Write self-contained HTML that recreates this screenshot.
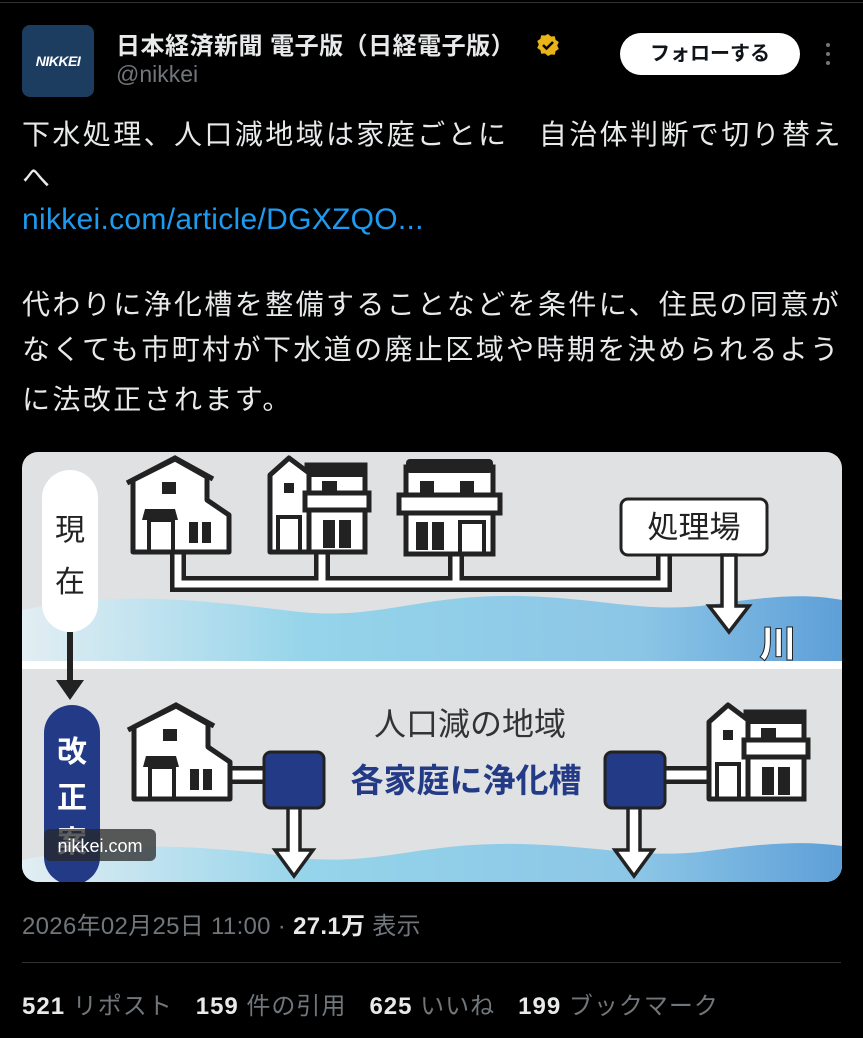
<!DOCTYPE html>
<html><head><meta charset="utf-8"><style>
*{margin:0;padding:0;box-sizing:border-box}
body{width:863px;height:1038px;background:#000;position:relative;overflow:hidden;font-family:"Liberation Sans","Noto Sans CJK JP",sans-serif;color:#e7e9ea}
.a{position:absolute;white-space:nowrap}
.t{font-size:28px;letter-spacing:2.4px;line-height:40px;color:#e7e9ea}
</style></head><body>
<div class="a" style="left:0;top:2px;width:863px;height:1px;background:#2f3336"></div>
<div class="a" style="left:22px;top:25px;width:72px;height:72px;border-radius:8px;background:#1d3d60;color:#fff;font-weight:bold;font-style:italic;font-size:14px;line-height:72px;text-align:center;letter-spacing:-0.5px">NIKKEI</div>
<div class="a" style="left:116px;top:26px;font-size:24px;font-weight:bold;color:#e7e9ea;letter-spacing:0.5px">日本経済新聞 電子版（日経電子版）</div>
<svg class="a" style="left:536px;top:33px" width="24" height="24" viewBox="0 0 24 24"><path d="M12 1l3 2.5 3.8-.3.8 3.7 3.2 2.1-1.6 3.5 1.6 3.5-3.2 2.1-.8 3.7-3.8-.3L12 23l-3-2.5-3.8.3-.8-3.7L1.2 15l1.6-3.5L1.2 8l3.2-2.1.8-3.7 3.8.3z" fill="#e8b418"/><path d="M7 12l3.5 3.5L17 9" stroke="#000" stroke-width="2.5" fill="none"/></svg>
<div class="a" style="left:116px;top:61px;font-size:23px;color:#71767b">@nikkei</div>
<div class="a" style="left:620px;top:33px;width:180px;height:42px;border-radius:21px;background:#fff;color:#0f1419;font-weight:bold;font-size:20px;line-height:42px;text-align:center">フォローする</div>
<div class="a" style="left:826px;top:43px;width:4px;height:4px;border-radius:2px;background:#71767b;box-shadow:0 9px 0 #71767b,0 18px 0 #71767b"></div>

<div class="a t" style="left:22px;top:115px">下水処理、人口減地域は家庭ごとに　自治体判断で切り替え</div>
<div class="a t" style="left:22px;top:158px">へ</div>
<div class="a t" style="left:22px;top:200px;color:#1d9bf0;letter-spacing:0.3px;font-size:30px">nikkei.com/article/DGXZQO...</div>
<div class="a t" style="left:22px;top:285px">代わりに浄化槽を整備することなどを条件に、住民の同意が</div>
<div class="a t" style="left:22px;top:330px">なくても市町村が下水道の廃止区域や時期を決められるよう</div>
<div class="a t" style="left:22px;top:380px">に法改正されます。</div>

<svg class="a" style="left:22px;top:452px" width="820" height="430" viewBox="22 452 820 430">
<defs>
<clipPath id="c"><rect x="22" y="452" width="820" height="430" rx="16"/></clipPath>
<linearGradient id="w" x1="0" x2="1"><stop offset="0" stop-color="#e2eef3"/><stop offset="0.35" stop-color="#95d4ea"/><stop offset="0.75" stop-color="#8cc6e6"/><stop offset="1" stop-color="#5e9fd8"/></linearGradient>
<g id="h1"><path d="M8 25L50 4L82 22V45L104 60V97H8Z" fill="#fff" stroke="#222" stroke-width="5" stroke-linejoin="round"/><path d="M2 28L50 3L88 24" fill="none" stroke="#222" stroke-width="5"/><rect x="37" y="27" width="14" height="12" fill="#222"/><path d="M20 54H50L53 65H17Z" fill="#222"/><rect x="24" y="65" width="24" height="32" fill="none" stroke="#222" stroke-width="4"/><rect x="64" y="67" width="9" height="21" fill="#222"/><rect x="77" y="67" width="9" height="21" fill="#222"/></g>
<g id="h2"><rect x="40" y="10" width="58" height="87" fill="#fff" stroke="#222" stroke-width="5"/><rect x="40" y="8" width="58" height="14" fill="#222"/><path d="M3 20L22 3L42 18V97H3Z" fill="#fff" stroke="#222" stroke-width="5" stroke-linejoin="round"/><rect x="38" y="38" width="64" height="17" fill="#fff" stroke="#222" stroke-width="5"/><rect x="17" y="28" width="10" height="10" fill="#222"/><rect x="55" y="26" width="15" height="11" fill="#222"/><rect x="11" y="62" width="22" height="35" fill="none" stroke="#222" stroke-width="4"/><rect x="56" y="65" width="12" height="28" fill="#222"/><rect x="72" y="65" width="12" height="28" fill="#222"/></g>
<g id="h3"><rect x="8" y="10" width="87" height="87" fill="#fff" stroke="#222" stroke-width="5"/><rect x="8" y="2" width="87" height="14" rx="4" fill="#222"/><rect x="1" y="38" width="101" height="18" fill="#fff" stroke="#222" stroke-width="5"/><rect x="22" y="24" width="14" height="12" fill="#222"/><rect x="62" y="24" width="14" height="12" fill="#222"/><rect x="18" y="65" width="12" height="28" fill="#222"/><rect x="34" y="65" width="12" height="28" fill="#222"/><rect x="62" y="65" width="24" height="32" fill="none" stroke="#222" stroke-width="4"/></g>
</defs>
<g clip-path="url(#c)">
<rect x="22" y="452" width="820" height="430" fill="#e0e1e3"/>
<path d="M22 610 C120 590 200 600 300 612 C380 620 420 594 520 596 C600 598 640 612 700 606 C760 598 800 592 842 600 V662 H22Z" fill="url(#w)"/>
<rect x="22" y="661" width="820" height="8" fill="#fff"/>
<path d="M22 860 C120 840 200 845 300 858 C380 866 420 842 520 844 C600 846 640 858 700 852 C760 844 800 840 842 846 V882 H22Z" fill="url(#w)"/>
<g fill="none" stroke-linejoin="miter">
<path d="M178 550V584H664V553M322 550V584M456 550V584" stroke="#222" stroke-width="16"/>
<path d="M178 550V584H664V553M322 550V584M456 550V584" stroke="#fff" stroke-width="7"/>
</g>
<use href="#h1" x="125" y="455"/>
<use href="#h2" x="267" y="455"/>
<use href="#h3" x="398" y="457"/>
<rect x="621" y="499" width="146" height="56" rx="7" fill="#fff" stroke="#222" stroke-width="3"/>
<text x="694" y="538" font-size="31" text-anchor="middle" fill="#222" font-family="Noto Sans CJK JP,sans-serif">処理場</text>
<path d="M722 555V606H709L729 632L749 606H736V555Z" fill="#fff" stroke="#222" stroke-width="3.5" stroke-linejoin="miter"/>
<text x="778" y="656" font-size="36" text-anchor="middle" fill="#fff" stroke="#222" stroke-width="2" font-weight="bold" font-family="Noto Sans CJK JP,sans-serif" paint-order="stroke">川</text>
<rect x="42" y="470" width="56" height="162" rx="28" fill="#fff"/>
<text x="70" y="540" font-size="30" text-anchor="middle" fill="#222" font-family="Noto Sans CJK JP,sans-serif">現</text>
<text x="70" y="592" font-size="30" text-anchor="middle" fill="#222" font-family="Noto Sans CJK JP,sans-serif">在</text>
<rect x="67" y="632" width="6" height="50" fill="#222"/>
<path d="M56 680H84L70 700Z" fill="#222"/>
<rect x="44" y="705" width="56" height="180" rx="28" fill="#233a86"/>
<text x="72" y="762" font-size="30" font-weight="bold" text-anchor="middle" fill="#fff" font-family="Noto Sans CJK JP,sans-serif">改</text>
<text x="72" y="808" font-size="30" font-weight="bold" text-anchor="middle" fill="#fff" font-family="Noto Sans CJK JP,sans-serif">正</text>
<text x="72" y="852" font-size="30" font-weight="bold" text-anchor="middle" fill="#fff" font-family="Noto Sans CJK JP,sans-serif">案</text>
<g fill="none"><path d="M226 775H268M660 775H712" stroke="#222" stroke-width="18"/><path d="M226 775H268M660 775H712" stroke="#fff" stroke-width="9"/></g>
<use href="#h1" x="126" y="702"/>
<use href="#h2" x="706" y="702"/>
<path d="M288 806V850H275L294 876L313 850H300V806Z" fill="#fff" stroke="#222" stroke-width="3.5"/>
<path d="M628 806V850H615L634 876L653 850H640V806Z" fill="#fff" stroke="#222" stroke-width="3.5"/>
<rect x="264" y="752" width="60" height="56" rx="7" fill="#233a86" stroke="#222" stroke-width="3"/>
<rect x="605" y="752" width="60" height="56" rx="7" fill="#233a86" stroke="#222" stroke-width="3"/>
<text x="470" y="735" font-size="32" text-anchor="middle" fill="#333" font-family="Noto Sans CJK JP,sans-serif">人口減の地域</text>
<text x="466" y="792" font-size="33" font-weight="bold" text-anchor="middle" fill="#233a86" font-family="Noto Sans CJK JP,sans-serif">各家庭に浄化槽</text>
<rect x="44" y="829" width="112" height="32" rx="6" fill="rgba(40,40,40,0.75)"/>
<text x="100" y="852" font-size="18" text-anchor="middle" fill="#fff" font-family="Liberation Sans,sans-serif">nikkei.com</text>
</g>
</svg>

<div class="a" style="left:22px;top:906px;font-size:24px;color:#71767b;letter-spacing:0.3px">2026年02月25日 11:00 · <b style="color:#e7e9ea">27.1万</b> 表示</div>
<div class="a" style="left:22px;top:962px;width:819px;height:1px;background:#2f3336"></div>
<div class="a" style="left:22px;top:986px;font-size:24px;color:#71767b;letter-spacing:1px"><b style="color:#e7e9ea">521</b> リポスト&nbsp;&nbsp; <b style="color:#e7e9ea">159</b> 件の引用&nbsp;&nbsp; <b style="color:#e7e9ea">625</b> いいね&nbsp;&nbsp; <b style="color:#e7e9ea">199</b> ブックマーク</div>
</body></html>
